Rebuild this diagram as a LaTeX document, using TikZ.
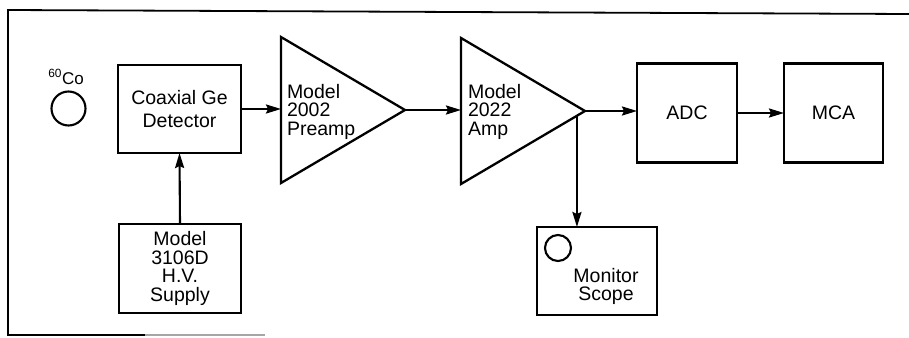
\documentclass[tikz,border=0pt]{standalone}
\usepackage{fontspec}
\setmainfont{Liberation Sans}
\usetikzlibrary{arrows.meta,shapes.geometric,calc}

\begin{document}
\begin{tikzpicture}[x=1pt,y=-1pt,
  every node/.style={inner sep=0pt, outer sep=0pt},
  txt/.style={font=\fontsize{19.5}{18.5}\selectfont},
  block/.style={draw, line width=2.3pt, rectangle, txt, align=center},
  amptri/.style={draw, line width=2.3pt, isosceles triangle,
    isosceles triangle stretches, minimum width=146pt, minimum height=124pt,
    anchor=apex},
  tritext/.style={txt, align=left, anchor=base west},
  ring/.style={draw, circle, line width=2.1pt},
  sig/.style={line width=2.1pt, -{Stealth[length=15pt,width=9pt,inset=2pt]}},
  frame/.style={line width=1.8pt}
]
\useasboundingbox (0,0) rectangle (909,337);

% outer frame
\draw[frame] (909,14) -- (8,10) -- (8,335) -- (145,335);
\draw[line width=1.2pt, black!35] (145,335) -- (265,335);

% source
\node[ring, minimum size=34pt] (co) at (68.5,108.5) {};
\node[anchor=base, font=\fontsize{17}{18}\selectfont] (colbl) at (66,84) {\textsuperscript{60}Co};

% blocks
\node[block, minimum width=123pt, minimum height=88pt,
      font=\fontsize{19.5}{23}\selectfont] (det) at (179.5,109) {Coaxial Ge\\Detector};
\node[block, minimum width=122pt, minimum height=89pt] (hv) at (180,268.5) {Model\\3106D\\H.V.\\Supply};
\node[amptri] (pre) at (405,110) {};
\node[tritext] (pretxt) at (287,135) {Model\\2002\\Preamp};
\node[amptri] (amp) at (585,111) {};
\node[tritext] (amptxt) at (468,135) {Model\\2022\\Amp};
\node[block, minimum width=100pt, minimum height=99pt] (adc) at (687,113) {ADC};
\node[block, minimum width=99pt, minimum height=99pt] (mca) at (833.5,113) {MCA};
\node[block, minimum width=120pt, minimum height=88pt] (scope) at (597,271) {};
\node[ring, minimum size=26pt] (screen) at (558,248) {};
\node[txt, align=center, anchor=base, font=\fontsize{19.5}{18}\selectfont] (scopetxt) at (606,300) {Monitor\\Scope};

% signal path
\draw[sig] (hv.north) -- (det.south);
\draw[sig] (det.east) -- (det.east -| pre.lower side);
\draw[sig] (pre.apex) -- (pre.apex -| amp.lower side);
\draw[sig] (amp.apex) -- (amp.apex -| adc.west);
\draw[sig] (adc.east) -- (mca.west);
\coordinate (tap) at ($(amp.apex)!0.065!(amp.right corner)$);
\draw[sig] (tap) -- (tap |- scope.north);
\end{tikzpicture}
\end{document}
